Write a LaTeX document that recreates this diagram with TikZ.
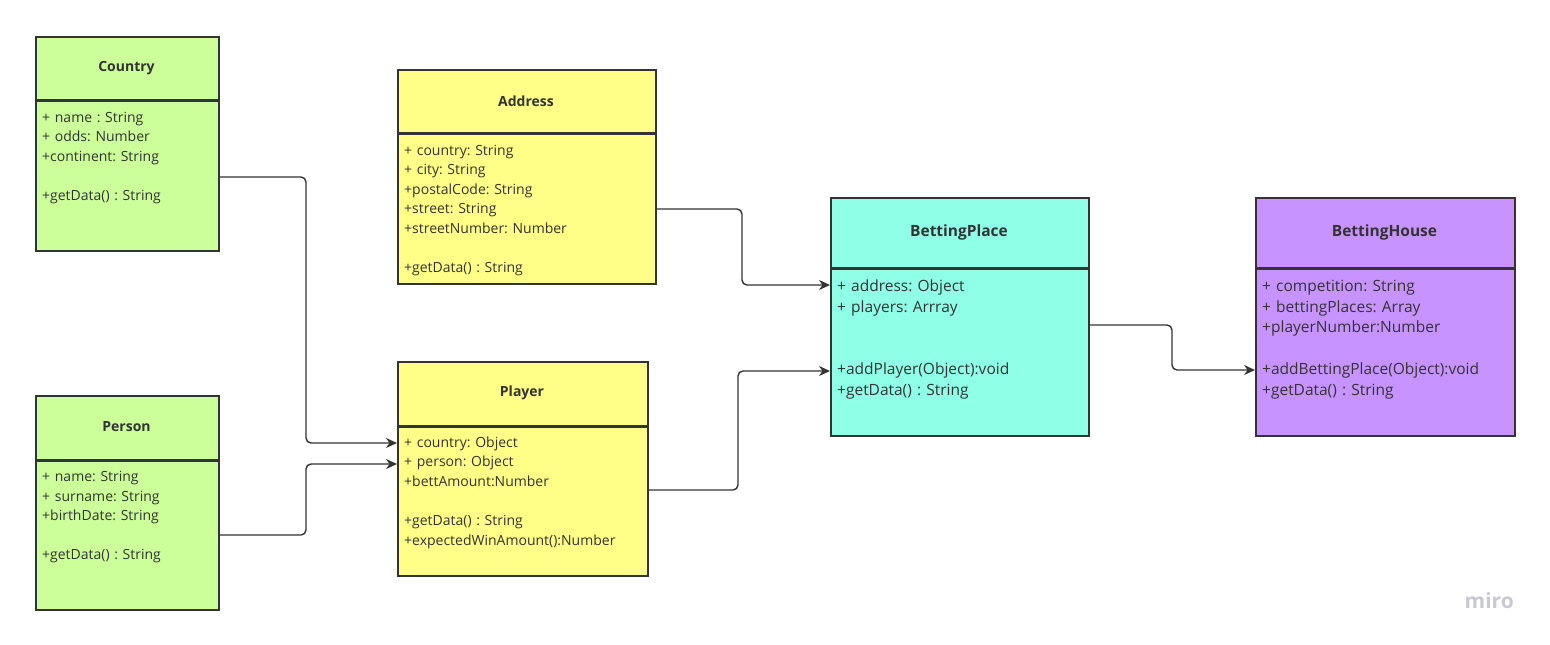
\documentclass[tikz,border=0pt]{standalone}
\usepackage{fontspec}
\setmainfont{Open Sans}
\usepackage{xcolor}
\usetikzlibrary{positioning,calc,arrows.meta}

\definecolor{classgreen}{HTML}{CCFF99}
\definecolor{classyellow}{HTML}{FFFF88}
\definecolor{classcyan}{HTML}{8FFFE8}
\definecolor{classpurple}{HTML}{C794FF}
\definecolor{linegray}{HTML}{333333}
\definecolor{textgray}{HTML}{333333}
\definecolor{mirogray}{HTML}{C8C8D2}

\tikzset{
    umlbox/.style={draw=linegray, line width=1.5pt, anchor=north west, inner sep=0pt},
    umltitle/.style={font=\fontsize{14}{16}\selectfont\bfseries, text=textgray, inner sep=0pt},
    bigtitle/.style={font=\fontsize{15.5}{18}\selectfont\bfseries, text=textgray, inner sep=0pt},
    umlbody/.style={anchor=base west, align=left, text width=#1, inner sep=0pt,
        font=\fontsize{14}{19.6}\selectfont\frenchspacing, text=textgray},
    bigbody/.style={anchor=base west, align=left, text width=#1, inner sep=0pt,
        font=\fontsize{15.5}{20.7}\selectfont\frenchspacing, text=textgray},
    divider/.style={draw=linegray, line width=3pt},
    link/.style={draw=linegray, line width=1.4pt, rounded corners=5pt,
        -{Stealth[length=11pt,width=10pt]}}
}

\begin{document}
\begin{tikzpicture}[x=1pt,y=-1pt]
    \useasboundingbox (0,0) rectangle (1550,645);

    % Country
    \node[umlbox, fill=classgreen, minimum width=183pt, minimum height=214pt] (country) at (35,36) {};
    \draw[divider] (country.west |- 0,100) -- (country.east |- 0,100);
    \node[umltitle] (countrytitle) at (126.5,68) {Country};
    \node[umlbody=170pt] (countrybody) at (42,122) {+ name : String\\ + odds: Number\\ +continent: String\\[19.6pt] +getData() : String};

    % Person
    \node[umlbox, fill=classgreen, minimum width=183pt, minimum height=214pt] (person) at (35,395) {};
    \draw[divider] (person.west |- 0,460) -- (person.east |- 0,460);
    \node[umltitle] (persontitle) at (126.5,427) {Person};
    \node[umlbody=170pt] (personbody) at (42,481.5) {+ name: String\\ + surname: String\\ +birthDate: String\\[19.6pt] +getData() : String};

    % Address
    \node[umlbox, fill=classyellow, minimum width=258pt, minimum height=214pt] (address) at (397,69) {};
    \draw[divider] (address.west |- 0,133) -- (address.east |- 0,133);
    \node[umltitle] (addresstitle) at (526,101) {Address};
    \node[umlbody=245pt] (addressbody) at (404,155) {+ country: String\\ + city: String\\ +postalCode: String\\ +street: String\\ +streetNumber: Number\\[19.6pt] +getData() : String};

    % Player
    \node[umlbox, fill=classyellow, minimum width=250pt, minimum height=214pt] (player) at (397,361) {};
    \draw[divider] (player.west |- 0,426) -- (player.east |- 0,426);
    \node[umltitle] (playertitle) at (522,393) {Player};
    \node[umlbody=240pt] (playerbody) at (404,447) {+ country: Object\\ + person: Object\\ +bettAmount:Number\\[19.6pt] +getData() : String\\ +expectedWinAmount():Number};

    % BettingPlace
    \node[umlbox, fill=classcyan, minimum width=258pt, minimum height=238pt] (bplace) at (830,197) {};
    \draw[divider] (bplace.west |- 0,268) -- (bplace.east |- 0,268);
    \node[bigtitle] (bplacetitle) at (959,232) {BettingPlace};
    \node[bigbody=245pt] (bplacebody) at (837,291.5) {+ address: Object\\ + players: Arrray\\[41.4pt] +addPlayer(Object):void\\ +getData() : String};

    % BettingHouse
    \node[umlbox, fill=classpurple, minimum width=259pt, minimum height=238pt] (bhouse) at (1255,197) {};
    \draw[divider] (bhouse.west |- 0,268) -- (bhouse.east |- 0,268);
    \node[bigtitle] (bhousetitle) at (1384.5,232) {BettingHouse};
    \node[bigbody=245pt] (bhousebody) at (1262,291.5) {+ competition: String\\ + bettingPlaces: Array\\ +playerNumber:Number\\[20.7pt] +addBettingPlace(Object):void\\ +getData() : String};

    % connectors
    \draw[link] (country.east |- 0,177) -| ([xshift=-91pt]player.west |- 0,443) -- (player.west |- 0,443);
    \draw[link] (person.east |- 0,535) -| ([xshift=-91pt]player.west |- 0,464) -- (player.west |- 0,464);
    \draw[link] (address.east |- 0,209) -| ([xshift=-88pt]bplace.west |- 0,285) -- (bplace.west |- 0,285);
    \draw[link] (player.east |- 0,490) -| ([xshift=-92pt]bplace.west |- 0,371) -- (bplace.west |- 0,371);
    \draw[link] (bplace.east |- 0,325) -| ([xshift=-83pt]bhouse.west |- 0,370) -- (bhouse.west |- 0,370);

    % watermark
    \node[font=\fontsize{21}{24}\selectfont\bfseries, text=mirogray, anchor=east, inner sep=0pt] (miro) at (1514,601) {miro};
\end{tikzpicture}
\end{document}
